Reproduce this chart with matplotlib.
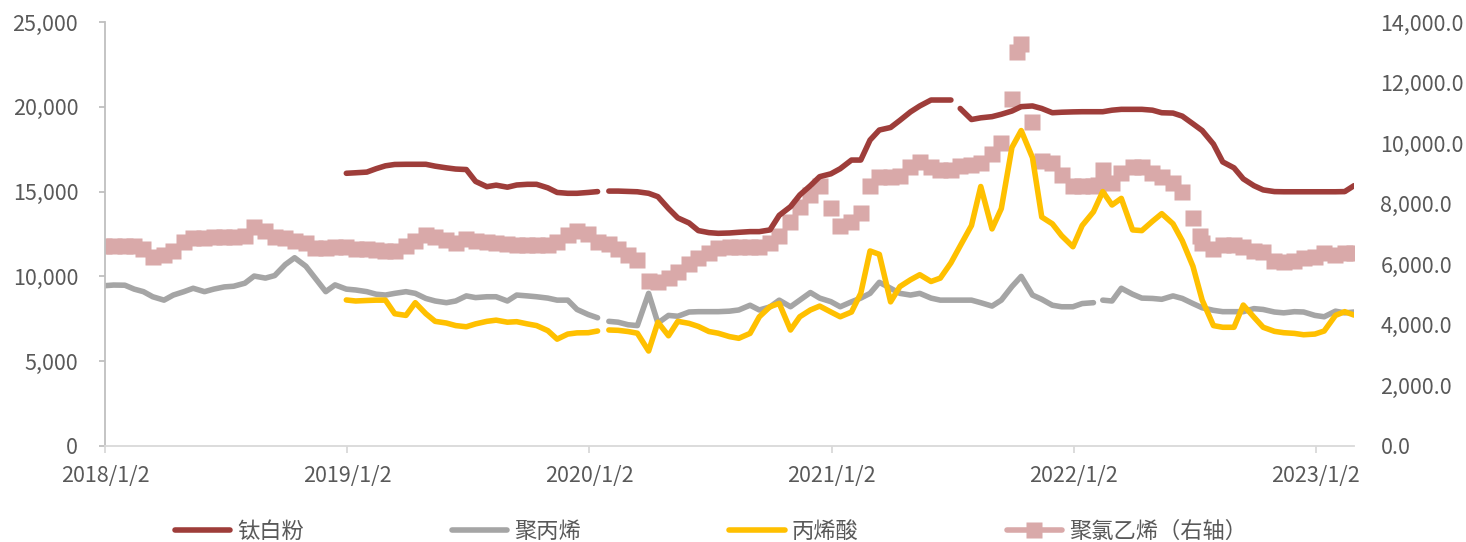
import numpy as np
import pandas as pd
import matplotlib

matplotlib.use("Agg")
import matplotlib.pyplot as plt
from matplotlib.lines import Line2D
from matplotlib.ticker import FuncFormatter, MultipleLocator

plt.rcParams["font.family"] = ["Noto Sans CJK SC", "DejaVu Sans"]

nan = np.nan

# semi-monthly sampling, 1st and 15th of each month
DATES = pd.date_range("2018-01-01", "2023-03-01", freq="SMS")

# 钛白粉 (元/吨, left axis)
TIO2 = [nan] * 24 + [
    16080, 16110, 16150, 16350, 16520, 16600, 16610, 16610, 16610, 16500, 16400, 16330,
    16300, 15600, 15290, 15380, 15260, 15390, 15430, 15430, 15220, 14950, 14900, 14900,
    # 2020
    14950, 15000, 15030, 15030, 15010, 14990, 14900, 14700, 14000, 13450, 13150, 12700,
    12580, 12540, 12560, 12600, 12640, 12640, 12740, 13600, 14110, 14800, 15350, 15880,
    # 2021
    16050, 16350, 16860, 16860, 18040, 18630, 18780, 19200, 19700, 20050, 20400, 20400,
    20400, 19900, 19250, 19350, 19420, 19560, 19750, 20010, 20050, 19900, 19650, 19680,
    # 2022
    19700, 19710, 19710, 19710, 19800, 19850, 19850, 19850, 19800, 19650, 19630, 19450,
    19000, 18600, 17800, 16750, 16400, 15750, 15350, 15100, 15000, 14990, 14990, 14990,
    # 2023
    14990, 14990, 14990, 15000, 15350,
]

# 聚丙烯 (left axis)
PP = [
    9450, 9490, 9480, 9250, 9100, 8800, 8600, 8900, 9100, 9300, 9100, 9250,
    9380, 9420, 9600, 10020, 9900, 10050, 10700, 11100, 10600, 9900, 9100, 9500,
    # 2019
    9250, 9200, 9100, 8950, 8900, 9000, 9100, 9000, 8700, 8550, 8450, 8550,
    8850, 8750, 8800, 8800, 8550, 8900, 8850, 8800, 8720, 8600, 8600, 8050,
    # 2020
    7750, 7560, 7350, 7300, 7150, 7100, 9000, 7250, 7700, 7650, 7900, 7920,
    7920, 7920, 7950, 8020, 8300, 8020, 8200, 8600, 8210, 8600, 9050, 8720,
    # 2021
    8510, 8210, 8500, 8720, 9000, 9650, 9300, 9000, 8900, 9000, 8720, 8600,
    8600, 8600, 8600, 8450, 8250, 8600, 9400, 10000, 8900, 8650, 8300, 8210,
    # 2022
    8210, 8400, 8450, 8600, 8550, 9300, 8950, 8720, 8700, 8650, 8850, 8700,
    8400, 8150, 8000, 7920, 7920, 7920, 8100, 8050, 7900, 7850, 7920, 7900,
    # 2023
    7700, 7620, 7950, 7850, 7900,
]

# 丙烯酸 (left axis)
ACRYLIC = [nan] * 24 + [
    8610, 8550, 8580, 8600, 8600, 7800, 7700, 8450, 7800, 7350, 7250, 7100,
    7030, 7200, 7350, 7420, 7300, 7330, 7200, 7100, 6800, 6300, 6600, 6670,
    # 2020
    6680, 6780, 6840, 6820, 6750, 6650, 5600, 7300, 6500, 7350, 7230, 7050,
    6750, 6650, 6450, 6350, 6640, 7620, 8210, 8410, 6840, 7620, 8020, 8250,
    # 2021
    7900, 7620, 7900, 9000, 11500, 11300, 8500, 9400, 9800, 10100, 9700, 9900,
    10800, 11800, 13000, 15300, 12800, 14000, 17600, 18600, 17000, 13500, 13100, 12400,
    # 2022
    11750, 13000, 13810, 15000, 14210, 14600, 12740, 12700, 13250, 13700, 13100, 12100,
    10600, 8600, 7100, 7000, 7000, 8310, 7600, 7000, 6760, 6680, 6640, 6560,
    # 2023
    6600, 6780, 7700, 7920, 7720,
]

# 聚氯乙烯 (right axis)
PVC = [
    6620, 6600, 6620, 6610, 6500, 6250, 6300, 6450, 6750, 6870, 6870, 6900,
    6910, 6900, 6950, 7220, 7100, 6900, 6860, 6780, 6700, 6530, 6530, 6560,
    # 2019
    6560, 6500, 6500, 6480, 6450, 6440, 6600, 6780, 6960, 6900, 6800, 6700,
    6830, 6780, 6740, 6710, 6670, 6640, 6630, 6630, 6630, 6750, 6980, 7090,
    # 2020
    7000, 6750, 6670, 6500, 6300, 6150, 5450, 5420, 5550, 5750, 6000, 6220,
    6380, 6530, 6560, 6560, 6560, 6570, 6700, 6950, 7400, 7900, 8300, 8600,
    # 2021
    7850, 7250, 7400, 7700, 8590, 8870, 8870, 8930, 9200, 9380, 9200, 9100,
    9100, 9250, 9280, 9350, 9640, 10000, 11450, 13270, 10700, 9420, 9350, 8950,
    # 2022
    8600, 8600, 8600, 9100, 8700, 9000, 9200, 9200, 9000, 8880, 8700, 8400,
    7530, 6700, 6500, 6640, 6640, 6580, 6450, 6400, 6100, 6070, 6100, 6200,
    # 2023
    6250, 6360, 6310, 6360, 6360,
]
PVC_EXTRA_DATES = ["2021-10-09", "2022-02-08", "2022-07-11"]
PVC_EXTRA = [13010, 8620, 6930]

# dates with no quote (holiday breaks in the line series)
BREAKS = {
    "TIO2": ["2020-01-24", "2021-07-08"],
    "PP": ["2020-01-24", "2022-02-05"],
    "ACRYLIC": ["2020-01-24"],
}

LABELS = ["钛白粉", "聚丙烯", "丙烯酸", "聚氯乙烯（右轴）"]
COLORS = ["#9E3D3A", "#A5A5A5", "#FFC000", "#D9A9A9"]
X_TICKS = ["2018-01-02", "2019-01-02", "2020-01-02", "2021-01-02", "2022-01-02", "2023-01-02"]
X_TICK_LABELS = ["2018/1/2", "2019/1/2", "2020/1/2", "2021/1/2", "2022/1/2", "2023/1/2"]

TEXT = "#595959"


def with_breaks(vals, breaks):
    s = pd.Series(vals, index=DATES, dtype=float)
    gaps = pd.Series(nan, index=pd.to_datetime(breaks))
    return pd.concat([s, gaps]).sort_index()


fig = plt.figure(figsize=(14.66, 5.42), dpi=100)
ax = fig.add_axes([105 / 1466, 96 / 542, 1249 / 1466, 424 / 542])
ax2 = ax.twinx()
ax.set_zorder(ax2.get_zorder() + 1)
ax.patch.set_visible(False)

# PVC as squares on the right axis
pvc = pd.Series(PVC, index=DATES)
extra = pd.Series(PVC_EXTRA, index=pd.to_datetime(PVC_EXTRA_DATES))
pvc = pd.concat([pvc, extra]).sort_index()
ax2.plot(pvc.index, pvc.values, ls="none", marker="s", ms=11.5,
         mfc=COLORS[3], mec="none")

handles = []
series = [("TIO2", TIO2), ("PP", PP), ("ACRYLIC", ACRYLIC)]
for (key, vals), c, lab in zip(series, COLORS[:3], LABELS[:3]):
    s = with_breaks(vals, BREAKS[key])
    ln, = ax.plot(s.index, s.values, color=c, lw=4.0, solid_capstyle="round",
                  solid_joinstyle="round", label=lab)
    handles.append(ln)
handles.append(Line2D([], [], color=COLORS[3], lw=4.0, marker="s", ms=11.5,
                      mfc=COLORS[3], mec="none", solid_capstyle="round"))

ax.set_xlim(pd.Timestamp("2018-01-02"), pd.Timestamp("2023-03-01"))
ax.set_ylim(0, 25000)
ax2.set_ylim(0, 14000)
ax.yaxis.set_major_locator(MultipleLocator(5000))
ax2.yaxis.set_major_locator(MultipleLocator(2000))
ax.yaxis.set_major_formatter(FuncFormatter(lambda v, p: f"{v:,.0f}"))
ax2.yaxis.set_major_formatter(FuncFormatter(lambda v, p: f"{v:,.1f}"))

ax.set_xticks([pd.Timestamp(d) for d in X_TICKS])
ax.set_xticklabels(X_TICK_LABELS)

for s in ["top", "right"]:
    ax.spines[s].set_visible(False)
for s in ax2.spines.values():
    s.set_visible(False)
ax.spines["left"].set_color("#BFBFBF")
ax.spines["left"].set_linewidth(1.3)
ax.spines["bottom"].set_color("#D9D9D9")
ax.spines["bottom"].set_linewidth(1.3)

ax.tick_params(axis="y", length=4.3, width=1.3, color="#BFBFBF", pad=15,
               labelsize=15.5, labelcolor=TEXT)
ax.tick_params(axis="x", length=5, width=1.3, color="#D9D9D9", pad=9,
               labelsize=15.5, labelcolor=TEXT)
ax2.tick_params(axis="y", length=0, pad=19, labelsize=15.5, labelcolor=TEXT)

fig.legend(handles, LABELS, loc="center left", bbox_to_anchor=(175 / 1466, 11 / 542),
           ncol=4, frameon=False, fontsize=16, labelcolor=TEXT,
           handlelength=2.48, handletextpad=0.32, columnspacing=6.67,
           borderpad=0, borderaxespad=0)

fig.savefig("out.png", dpi=100)
